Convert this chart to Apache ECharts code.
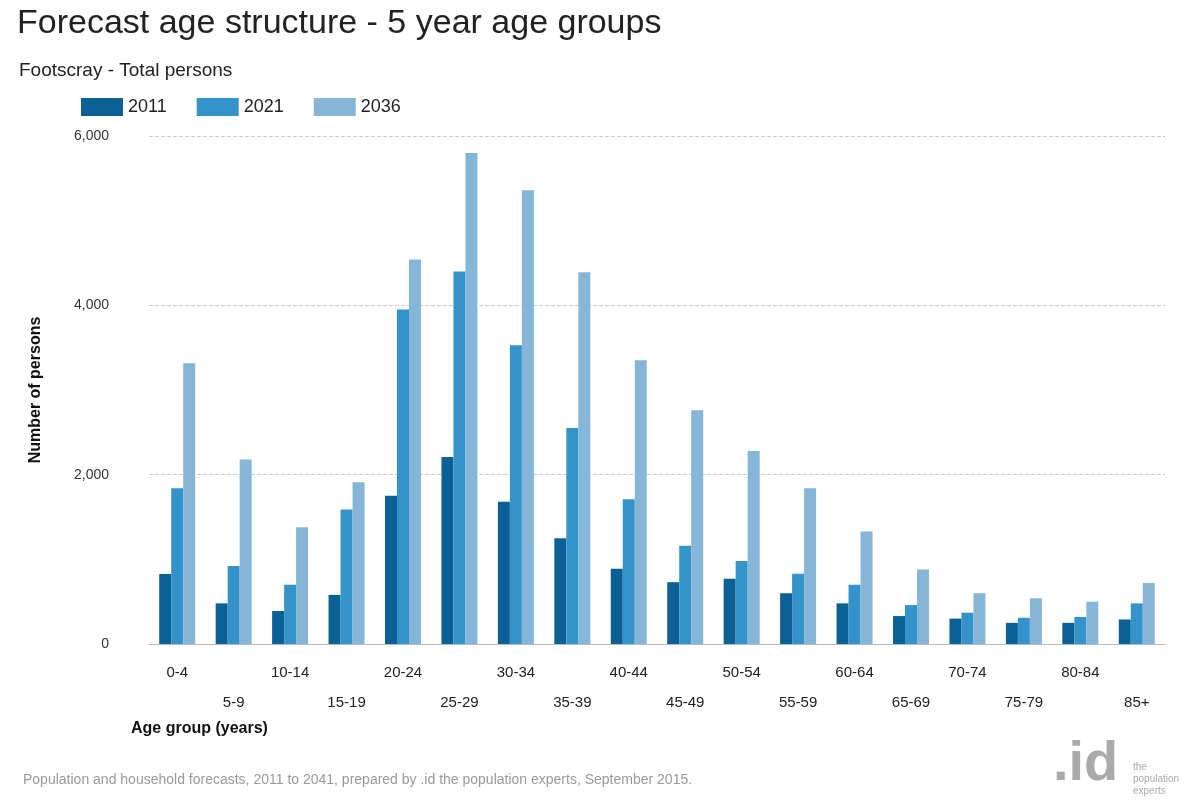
<!DOCTYPE html><html><head><meta charset="utf-8"><script src="https://cdn.jsdelivr.net/npm/echarts@6/dist/echarts.min.js"></script>
<style>body{margin:0;background:#fff}#c{width:1200px;height:810px}</style></head><body><div id="c"></div><script>
const categories=['0-4','5-9','10-14','15-19','20-24','25-29','30-34','35-39','40-44','45-49','50-54','55-59','60-64','65-69','70-74','75-79','80-84','85+'];
const s2011=[826,480,390,580,1750,2210,1680,1250,890,730,770,600,480,330,300,250,250,290];
const s2021=[1840,920,700,1590,3950,4400,3530,2550,1710,1160,980,830,700,460,370,310,320,480];
const s2036=[3316,2180,1380,1910,4540,5800,5360,4390,3350,2760,2280,1840,1330,880,600,540,500,720];
const yTicks=[0,2000,4000,6000];
const ch=echarts.init(document.getElementById('c'));
const F='Arial, Liberation Sans, sans-serif';
ch.setOption({
 animation:false,
 title:[{text:'Forecast age structure - 5 year age groups',left:12,top:2,textStyle:{fontFamily:F,fontSize:34,fontWeight:'normal',color:'#222'}},
  {text:'Footscray - Total persons',left:14,top:56,textStyle:{fontFamily:F,fontSize:19,fontWeight:'normal',color:'#222'}},
  {text:'Age group (years)',left:126,top:716,textStyle:{fontFamily:F,fontSize:16,fontWeight:'bold',color:'#111'}},
  {text:'Population and household forecasts, 2011 to 2041, prepared by .id the population experts, September 2015.',left:18,top:768,textStyle:{fontFamily:F,fontSize:14,fontWeight:'normal',color:'#999'}},
  {text:'.id',left:1048,top:732,textStyle:{fontFamily:F,fontSize:56,fontWeight:'bold',color:'#aaa'}},
  {text:'the\npopulation\nexperts',left:1128,top:756,textStyle:{fontFamily:F,fontSize:10,fontWeight:'normal',color:'#aaa',lineHeight:12}}],
 legend:{left:76,top:93,itemWidth:42,itemHeight:18,itemGap:30,textStyle:{fontFamily:F,fontSize:18,color:'#222'},icon:'rect'},
 grid:{left:149,right:35,top:136,bottom:166},
 xAxis:{type:'category',data:categories,
  axisLine:{lineStyle:{color:'#bbb'}},axisTick:{show:false},
  axisLabel:{fontFamily:F,fontSize:15,color:'#222',interval:0,margin:14,lineHeight:30,formatter:(v,i)=>i%2?'\n'+v:v}},
 yAxis:{type:'value',min:0,max:6000,interval:2000,name:'Number of persons',nameLocation:'middle',nameGap:105,
  nameTextStyle:{fontFamily:F,fontSize:16,fontWeight:'bold',color:'#111'},
  axisLabel:{fontFamily:F,fontSize:14,color:'#333',margin:40,formatter:v=>v.toLocaleString('en-US')},
  splitLine:{lineStyle:{type:'dashed',color:'#ccc'}}},
 series:[
  {name:'2011',type:'bar',data:s2011,itemStyle:{color:'#0b6096'},barWidth:12,barGap:'0%'},
  {name:'2021',type:'bar',data:s2021,itemStyle:{color:'#3593cb'},barWidth:12},
  {name:'2036',type:'bar',data:s2036,itemStyle:{color:'#85b6d7'},barWidth:12}]
});
</script></body></html>
